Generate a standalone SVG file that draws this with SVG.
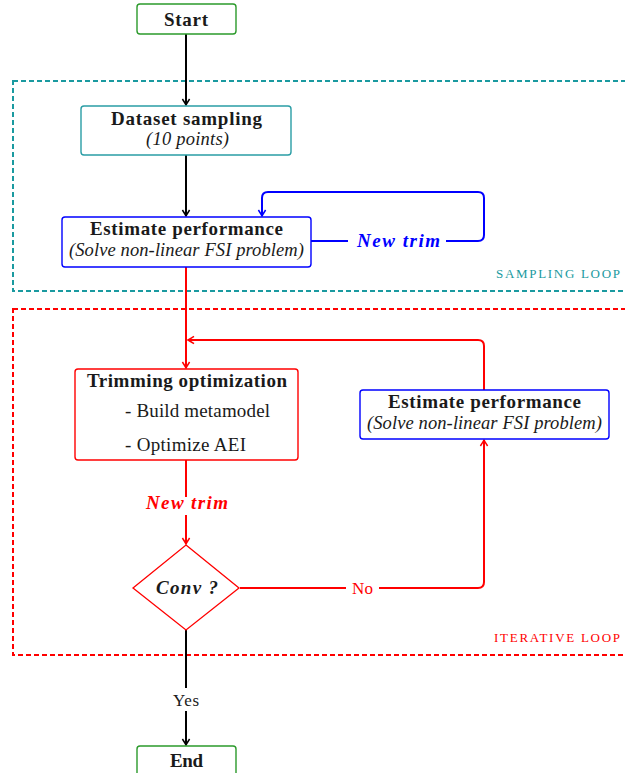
<svg xmlns="http://www.w3.org/2000/svg" width="625" height="773" viewBox="0 0 625 773" font-family="'Liberation Serif', 'DejaVu Serif', serif">
<style>
.t{text-anchor:middle;fill:#1a1a1a}
.b{font-weight:bold;font-size:19px}
.i{font-style:italic;font-size:18.5px}
.bi{font-weight:bold;font-style:italic;font-size:19px}
.r{font-size:19px}
.s{font-size:17px}
.sc{font-size:13px;text-anchor:start}
.box{fill:#fff;stroke-width:1.4}
.c{fill:none;stroke-width:2}
.dash{fill:none;stroke-width:2;stroke-dasharray:5 3}
</style>
<defs>
<marker id="ak" viewBox="-8 -5 10 10" refX="0" refY="0" markerWidth="10" markerHeight="10" markerUnits="userSpaceOnUse" orient="auto"><path d="M-6,-3.6 Q-2,-1 0,0 Q-2,1 -6,3.6" fill="none" stroke="#000" stroke-width="1.5"/></marker>
<marker id="ab" viewBox="-8 -5 10 10" refX="0" refY="0" markerWidth="10" markerHeight="10" markerUnits="userSpaceOnUse" orient="auto"><path d="M-6,-3.6 Q-2,-1 0,0 Q-2,1 -6,3.6" fill="none" stroke="#0000ff" stroke-width="1.5"/></marker>
<marker id="ar" viewBox="-8 -5 10 10" refX="0" refY="0" markerWidth="10" markerHeight="10" markerUnits="userSpaceOnUse" orient="auto"><path d="M-6,-3.6 Q-2,-1 0,0 Q-2,1 -6,3.6" fill="none" stroke="#ff0000" stroke-width="1.5"/></marker>
</defs>
<rect width="625" height="773" fill="#fff"/>
<g id="loops">
<rect x="13" y="81" width="640" height="210" class="dash" stroke="#1a9aa0"/>
<text x="496" y="278" class="t sc" font-family="'Liberation Serif', serif" style="fill:#1a9aa0" textLength="124">SAMPLING LOOP</text>
<rect x="13" y="309" width="640" height="346" class="dash" stroke="#ff0000"/>
<text x="494" y="642" class="t sc" font-family="'Liberation Serif', serif" style="fill:#ff0000" textLength="126">ITERATIVE LOOP</text>
</g>
<g id="connectors">
<path class="c" stroke="#000" d="M186,34 V105" marker-end="url(#ak)"/>
<path class="c" stroke="#000" d="M186,155 V216" marker-end="url(#ak)"/>
<path class="c" stroke="#0000ff" d="M311,241 H348 M446,241 H478 Q484,241 484,235 V198 Q484,192 478,192 H268 Q262,192 262,198 V216" marker-end="url(#ab)"/>
<text x="398.5" y="247" class="t bi" font-family="'Liberation Serif', serif" style="fill:#0000ff" textLength="83">New trim</text>
<path class="c" stroke="#ff0000" d="M186,267 V368" marker-end="url(#ar)"/>
<path class="c" stroke="#ff0000" d="M484,390 V346 Q484,340 478,340 H188" marker-end="url(#ar)"/>
<path class="c" stroke="#ff0000" d="M186,460 V497 M186,515 V544" marker-end="url(#ar)"/>
<text x="187" y="509" class="t bi" font-family="'Liberation Serif', serif" style="fill:#ff0000" textLength="82">New trim</text>
<path class="c" stroke="#ff0000" d="M240,588 H346 M379,588 H478 Q484,588 484,582 V440" marker-end="url(#ar)"/>
<text x="362.5" y="594" class="t s" font-family="'Liberation Serif', serif" style="fill:#ff0000" textLength="21">No</text>
<path class="c" stroke="#000" d="M186,629 V688 M186,711 V745" marker-end="url(#ak)"/>
<text x="186" y="706" class="t s" font-family="'Liberation Serif', serif" textLength="26">Yes</text>
</g>
<g id="start">
<rect x="137" y="4" width="99" height="30" rx="3" class="box" stroke="#2b9a2b"/>
<text x="186" y="26" class="t b" font-family="'Liberation Serif', serif" textLength="44">Start</text>
</g>
<g id="dataset">
<rect x="81" y="106" width="210" height="49" rx="3" class="box" stroke="#2a9da5"/>
<text x="186.5" y="125" class="t b" font-family="'Liberation Serif', serif" textLength="151">Dataset sampling</text>
<text x="187.5" y="145" class="t i" font-family="'Liberation Serif', serif" textLength="83">(10 points)</text>
</g>
<g id="estimate1">
<rect x="62" y="217" width="249" height="50" rx="3" class="box" stroke="#0000ff"/>
<text x="186.5" y="235" class="t b" font-family="'Liberation Serif', serif" textLength="193">Estimate performance</text>
<text x="186.5" y="256" class="t i" font-family="'Liberation Serif', serif" textLength="235">(Solve non-linear FSI problem)</text>
</g>
<g id="trimming">
<rect x="75" y="369" width="223" height="91" rx="3" class="box" stroke="#ff0000"/>
<text x="187" y="387" class="t b" font-family="'Liberation Serif', serif" textLength="200">Trimming optimization</text>
<text x="125" y="417" class="t r" font-family="'Liberation Serif', serif" style="text-anchor:start" textLength="145">- Build metamodel</text>
<text x="125" y="451" class="t r" font-family="'Liberation Serif', serif" style="text-anchor:start" textLength="121">- Optimize AEI</text>
</g>
<g id="estimate2">
<rect x="360" y="390" width="249" height="49" rx="3" class="box" stroke="#0000ff"/>
<text x="484.5" y="408" class="t b" font-family="'Liberation Serif', serif" textLength="193">Estimate performance</text>
<text x="484.5" y="429" class="t i" font-family="'Liberation Serif', serif" textLength="235">(Solve non-linear FSI problem)</text>
</g>
<g id="conv">
<polygon points="186,545 239,588 186,630 133,588" fill="#fff" stroke="#ff0000" stroke-width="1.3"/>
<text x="187" y="594" class="t bi" font-family="'Liberation Serif', serif" textLength="62">Conv ?</text>
</g>
<g id="end">
<rect x="137" y="746" width="99" height="30" rx="3" class="box" stroke="#2b9a2b"/>
<text x="186.5" y="767" class="t b" font-family="'Liberation Serif', serif" textLength="33">End</text>
</g>
</svg>
